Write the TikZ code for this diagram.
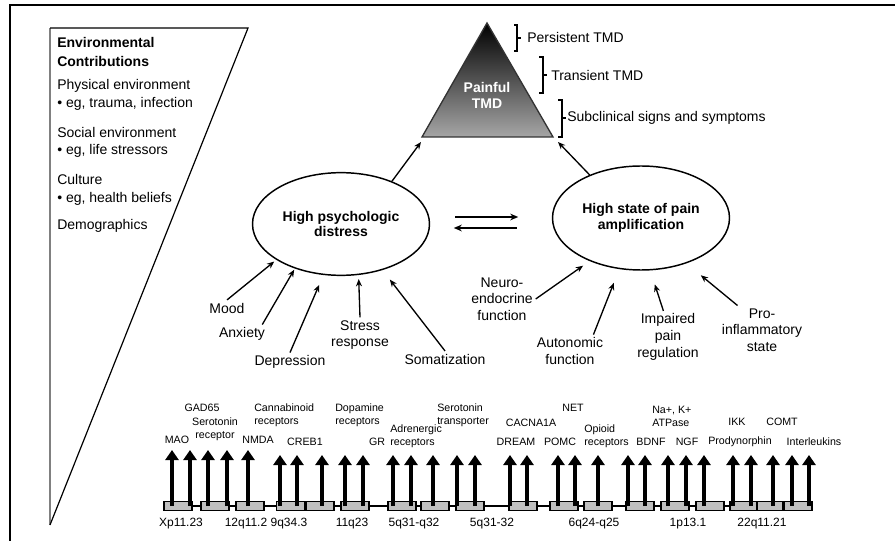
\documentclass[tikz,border=0pt]{standalone}
\usepackage{fontspec}
\setmainfont{Liberation Sans}
\usetikzlibrary{arrows.meta,shapes.geometric}

\tikzset{
  txt/.style={inner sep=2pt, align=center, font=\fontsize{10.5}{12.5}\selectfont},
  envtxt/.style={inner sep=0pt, anchor=west, font=\fontsize{10.5}{12.5}\selectfont},
  genetxt/.style={inner sep=0pt, align=center, font=\fontsize{8}{9.5}\selectfont},
  chromtxt/.style={inner sep=0pt, font=\fontsize{9}{10}\selectfont},
  blob/.style={draw, ellipse, line width=1.1pt, minimum width=132.75pt, minimum height=77pt,
    inner sep=0pt, align=center, font=\fontsize{10.5}{11.5}\selectfont\bfseries},
  feed/.style={-{Stealth[length=5.5pt,width=4.5pt]}, line width=1pt},
  swap/.style={-{Stealth[length=6pt,width=5pt]}, line width=1.2pt},
  gene/.style={-{Triangle[length=7.5pt,width=9.75pt]}, line width=2.6pt},
  genebox/.style={draw, fill=gray!50, line width=0.8pt, minimum width=21pt,
    minimum height=6.75pt, inner sep=0pt},
}

\begin{document}
\begin{tikzpicture}[x=0.75pt, y=-0.75pt]
  \useasboundingbox (0,0) rectangle (895,541);

  % Frame
  \draw[line width=2pt] (10,541) -- (10,5) -- (895,5);

  % Environmental wedge
  \draw[gray, line width=1.5pt] (50,28) -- (50,525);
  \draw[line width=0.9pt] (50,28) -- (248,28) -- (50,525);

  \node[envtxt, font=\fontsize{10.5}{12.5}\selectfont\bfseries] (env1) at (57,43) {Environmental};
  \node[envtxt, font=\fontsize{10.5}{12.5}\selectfont\bfseries] (env2) at (57,62) {Contributions};
  \node[envtxt] (env3) at (57,86) {Physical environment};
  \node[envtxt] (env4) at (57,104) {• eg, trauma, infection};
  \node[envtxt] (env5) at (57,132) {Social environment};
  \node[envtxt] (env6) at (57,151) {• eg, life stressors};
  \node[envtxt] (env7) at (57,179) {Culture};
  \node[envtxt] (env8) at (57,199) {• eg, health beliefs};
  \node[envtxt] (env9) at (57,226) {Demographics};

  % Pyramid
  \coordinate (apex) at (487,23);
  \coordinate (baseL) at (422,137);
  \coordinate (baseR) at (553,137);
  \shade[top color=black, bottom color=black!35] (apex) -- (baseL) -- (baseR) -- cycle;
  \draw[black!80, line width=1pt] (apex) -- (baseL) -- (baseR) -- cycle;
  \node[txt, text=white, font=\fontsize{10.5}{12}\selectfont\bfseries] (painful) at (487,95) {Painful\\TMD};

  % Brackets
  \node[envtxt] (persist) at (527,38) {Persistent TMD};
  \node[envtxt] (transient) at (551,75) {Transient TMD};
  \node[envtxt] (subclin) at (567,118) {Subclinical signs and symptoms};
  \draw[line width=0.8pt] (514,25) -- (517,25) -- (517,51) -- (514,51) (517,38) -- (521,38);
  \draw[line width=0.8pt] (539,57) -- (543,57) -- (543,93) -- (539,93) (543,75) -- (547,75);
  \draw[line width=0.8pt] (558,100) -- (562,100) -- (562,137) -- (558,137) (562,118) -- (566,118);

  % Ellipses
  \node[blob] (psy) at (341,224) {High psychologic\\distress};
  \node[blob, minimum height=78pt] (amp) at (641,218) {High state of pain\\amplification};

  \coordinate (tipL) at (421,142);
  \coordinate (tipR) at (558,142);
  \draw[feed] (psy.40) -- (tipL);
  \draw[feed] (amp.140) -- (tipR);

  \draw[swap] (psy.east) ++(25,-7) -- ++(63,0);
  \draw[swap] (amp.west) ++(-35,10) -- ++(-63,0);

  % Psychologic inputs
  \node[txt] (mood) at (227,308) {Mood};
  \node[txt] (anx) at (242,334) {Anxiety};
  \node[txt] (dep) at (290,362) {Depression};
  \node[txt] (stress) at (360,335) {Stress\\response};
  \node[txt] (soma) at (445,359) {Somatization};

  \draw[feed, shorten >=2pt] (mood.north) -- (psy.209);
  \draw[feed, shorten >=1pt] (anx.25) -- (psy.224);
  \draw[feed, shorten >=8pt] (dep.north) -- (psy.251);
  \draw[feed, shorten >=3pt] (stress.north) -- (psy.289);
  \draw[feed, shorten >=9pt] (soma.north) -- (psy.312);

  % Pain amplification inputs
  \node[txt] (neuro) at (502,299) {Neuro-\\endocrine\\function};
  \node[txt] (auto) at (570,351) {Autonomic\\function};
  \node[txt] (imp) at (668,337) {Impaired\\pain\\regulation};
  \node[txt] (pro) at (762,330) {Pro-\\inflammatory\\state};

  \draw[feed, shorten >=6pt] (neuro.east) -- (amp.220);
  \draw[feed, shorten >=11pt] (auto.35) -- (amp.247);
  \draw[feed, shorten >=11pt] (imp.100) -- (amp.280);
  \draw[feed, shorten >=14pt] (pro.135) -- (amp.315);

  % Genes
  \coordinate (bar) at (163,506);
  \draw[line width=1pt] (163,506) -- (813,506);

  \node[genebox] (b1) at (178,506) {};
  \node[genebox] (b2) at (215,506) {};
  \node[genebox] (b3) at (250,506) {};
  \node[genebox] (b4) at (290.5,506) {};
  \node[genebox] (b5) at (320,506) {};
  \node[genebox] (b6) at (355,506) {};
  \node[genebox] (b7) at (402,506) {};
  \node[genebox] (b8) at (435,506) {};
  \node[genebox] (b9) at (470,506) {};
  \node[genebox] (b10) at (523,506) {};
  \node[genebox] (b11) at (564,506) {};
  \node[genebox] (b12) at (598,506) {};
  \node[genebox] (b13) at (640,506) {};
  \node[genebox] (b14) at (675,506) {};
  \node[genebox] (b15) at (710,506) {};
  \node[genebox, minimum width=20.25pt] (b16) at (743.5,506) {};
  \node[genebox, minimum width=19.5pt] (b17) at (770,506) {};
  \node[genebox] (b18) at (798,506) {};

  \coordinate (g1) at (172,450);
  \coordinate (g2) at (190,450);
  \coordinate (g3) at (208,450);
  \coordinate (g4) at (227,450);
  \coordinate (g5) at (248,450);
  \coordinate (g6) at (280,455);
  \coordinate (g7) at (297,455);
  \coordinate (g8) at (322,455);
  \coordinate (g9) at (345,455);
  \coordinate (g10) at (363,455);
  \coordinate (g11) at (393,455);
  \coordinate (g12) at (411,455);
  \coordinate (g13) at (433,455);
  \coordinate (g14) at (457,455);
  \coordinate (g15) at (475,455);
  \coordinate (g16) at (510,455);
  \coordinate (g17) at (527,455);
  \coordinate (g18) at (558,455);
  \coordinate (g19) at (575,455);
  \coordinate (g20) at (598,455);
  \coordinate (g21) at (628,455);
  \coordinate (g22) at (645,455);
  \coordinate (g23) at (668,455);
  \coordinate (g24) at (686,455);
  \coordinate (g25) at (704,455);
  \coordinate (g26) at (733,455);
  \coordinate (g27) at (751,455);
  \coordinate (g28) at (773,455);
  \coordinate (g29) at (792,455);
  \coordinate (g30) at (809,455);

  \draw[gene] (g1 |- bar) -- (g1);
  \draw[gene] (g2 |- bar) -- (g2);
  \draw[gene] (g3 |- bar) -- (g3);
  \draw[gene] (g4 |- bar) -- (g4);
  \draw[gene] (g5 |- bar) -- (g5);
  \draw[gene] (g6 |- bar) -- (g6);
  \draw[gene] (g7 |- bar) -- (g7);
  \draw[gene] (g8 |- bar) -- (g8);
  \draw[gene] (g9 |- bar) -- (g9);
  \draw[gene] (g10 |- bar) -- (g10);
  \draw[gene] (g11 |- bar) -- (g11);
  \draw[gene] (g12 |- bar) -- (g12);
  \draw[gene] (g13 |- bar) -- (g13);
  \draw[gene] (g14 |- bar) -- (g14);
  \draw[gene] (g15 |- bar) -- (g15);
  \draw[gene] (g16 |- bar) -- (g16);
  \draw[gene] (g17 |- bar) -- (g17);
  \draw[gene] (g18 |- bar) -- (g18);
  \draw[gene] (g19 |- bar) -- (g19);
  \draw[gene] (g20 |- bar) -- (g20);
  \draw[gene] (g21 |- bar) -- (g21);
  \draw[gene] (g22 |- bar) -- (g22);
  \draw[gene] (g23 |- bar) -- (g23);
  \draw[gene] (g24 |- bar) -- (g24);
  \draw[gene] (g25 |- bar) -- (g25);
  \draw[gene] (g26 |- bar) -- (g26);
  \draw[gene] (g27 |- bar) -- (g27);
  \draw[gene] (g28 |- bar) -- (g28);
  \draw[gene] (g29 |- bar) -- (g29);
  \draw[gene] (g30 |- bar) -- (g30);

  % Gene labels
  \node[genetxt] (mao) at (177,440) {MAO};
  \node[genetxt] (gad) at (202,408) {GAD65};
  \node[genetxt] (ser) at (215,429.5) {Serotonin\\receptor};
  \node[genetxt] (nmda) at (258,440) {NMDA};
  \node[genetxt, anchor=west, align=left] (cann) at (254,415) {Cannabinoid\\receptors};
  \node[genetxt] (creb) at (305,442) {CREB1};
  \node[genetxt, anchor=west, align=left] (dopa) at (335,415) {Dopamine\\receptors};
  \node[genetxt] (gr) at (377,442) {GR};
  \node[genetxt, anchor=west, align=left] (adre) at (390,436) {Adrenergic\\receptors};
  \node[genetxt, anchor=west, align=left] (sert) at (437,415) {Serotonin\\transporter};
  \node[genetxt] (cacn) at (531,423) {CACNA1A};
  \node[genetxt] (dream) at (516,442) {DREAM};
  \node[genetxt] (net) at (573,408) {NET};
  \node[genetxt] (pomc) at (560,442) {POMC};
  \node[genetxt, anchor=west, align=left] (opio) at (584,436) {Opioid\\receptors};
  \node[genetxt] (bdnf) at (651,442) {BDNF};
  \node[genetxt, anchor=west, align=left] (atp) at (652,416.5) {Na+, K+\\ATPase};
  \node[genetxt] (ngf) at (687,442) {NGF};
  \node[genetxt] (prod) at (740,442) {Prodynorphin};
  \node[genetxt] (ikk) at (737,422) {IKK};
  \node[genetxt] (comt) at (782,422) {COMT};
  \node[genetxt] (il) at (814,442) {Interleukins};

  % Chromosome loci
  \node[chromtxt] (c1) at (181,524) {Xp11.23};
  \node[chromtxt] (c2) at (246,524) {12q11.2};
  \node[chromtxt] (c3) at (289,524) {9q34.3};
  \node[chromtxt] (c4) at (352,524) {11q23};
  \node[chromtxt] (c5) at (414,524) {5q31-q32};
  \node[chromtxt] (c6) at (492,524) {5q31-32};
  \node[chromtxt] (c7) at (594,524) {6q24-q25};
  \node[chromtxt] (c8) at (688,524) {1p13.1};
  \node[chromtxt] (c9) at (762,524) {22q11.21};
\end{tikzpicture}
\end{document}
